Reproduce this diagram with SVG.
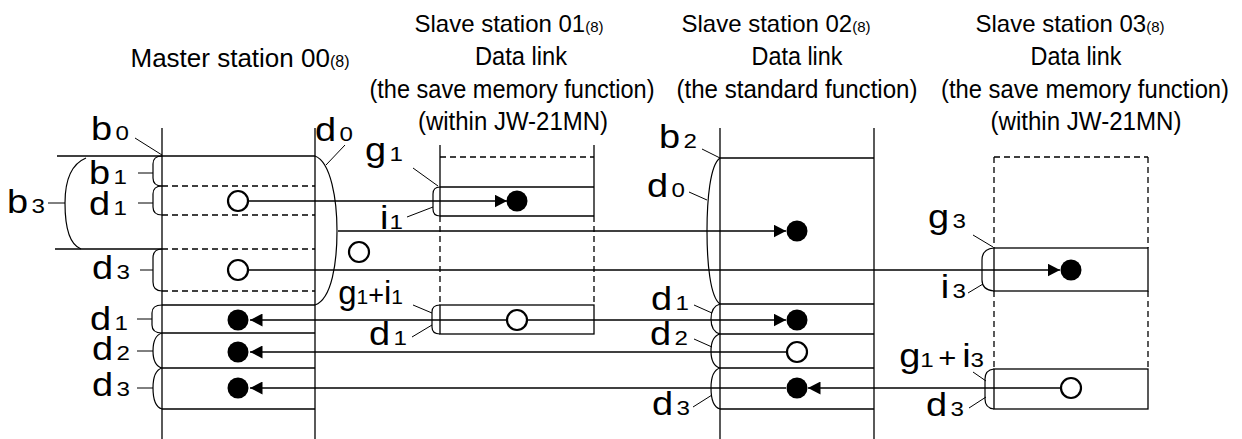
<svg xmlns="http://www.w3.org/2000/svg" width="1242" height="439" viewBox="0 0 1242 439">
<style>
.bg{fill:#fff}
.ln{stroke:#000;stroke-width:1.3;fill:none}
.ds{stroke:#000;stroke-width:1.3;fill:none;stroke-dasharray:6,4}
.br{stroke:#000;stroke-width:1.2;fill:none}
.ld{stroke:#000;stroke-width:1;fill:none}
.ar{stroke:#000;stroke-width:1.5;fill:none}
.oc{fill:#fff;stroke:#000;stroke-width:2.2}
.fc{fill:#000}
.h{font-family:"Liberation Sans",Arial,sans-serif;font-size:25px;fill:#000;text-anchor:middle}
.t{font-family:"Liberation Sans",Arial,sans-serif;font-size:24px;fill:#000;text-anchor:middle}
.m{font-family:"Liberation Sans",Arial,sans-serif;font-size:26px;fill:#000;text-anchor:middle}
.h8{font-size:15px}
.m8{font-size:16px}
.lb{font-family:"Liberation Sans",Arial,sans-serif;font-size:33px;fill:#000;text-anchor:end}
.sb{font-size:21px}
</style>
<defs>
<marker id="ah" markerWidth="13" markerHeight="13" refX="12.5" refY="6.5" orient="auto" markerUnits="userSpaceOnUse"><path d="M0,0 L12.5,6.5 L0,13 z" fill="#000"/></marker>
</defs>
<rect class="bg" x="0" y="0" width="1242" height="439"/>

<g id="headers">
<text class="m" x="240" y="67">Master station 00<tspan class="m8">(8)</tspan></text>
<text class="t" x="509" y="32">Slave station 01<tspan class="h8">(8)</tspan></text>
<text class="h" x="521" y="65" textLength="92" lengthAdjust="spacingAndGlyphs">Data link</text>
<text class="h" x="512" y="98" textLength="285" lengthAdjust="spacingAndGlyphs">(the save memory function)</text>
<text class="h" x="513" y="130" textLength="190" lengthAdjust="spacingAndGlyphs">(within JW-21MN)</text>
<text class="t" x="776" y="32">Slave station 02<tspan class="h8">(8)</tspan></text>
<text class="h" x="797" y="65" textLength="91" lengthAdjust="spacingAndGlyphs">Data link</text>
<text class="h" x="797" y="98" textLength="241" lengthAdjust="spacingAndGlyphs">(the standard function)</text>
<text class="t" x="1070" y="32">Slave station 03<tspan class="h8">(8)</tspan></text>
<text class="h" x="1076" y="65" textLength="91" lengthAdjust="spacingAndGlyphs">Data link</text>
<text class="h" x="1085" y="98" textLength="288" lengthAdjust="spacingAndGlyphs">(the save memory function)</text>
<text class="h" x="1086" y="130" textLength="191" lengthAdjust="spacingAndGlyphs">(within JW-21MN)</text>
</g>

<g id="master">
<line class="ln" x1="162" y1="128" x2="162" y2="439"/>
<line class="ln" x1="315" y1="128" x2="315" y2="439"/>
<line class="ln" x1="57" y1="156" x2="315" y2="156"/>
<line class="ds" x1="162" y1="186" x2="315" y2="186"/>
<line class="ds" x1="162" y1="215" x2="315" y2="215"/>
<line class="ln" x1="55" y1="249" x2="162" y2="249"/>
<line class="ds" x1="162" y1="249" x2="315" y2="249"/>
<line class="ds" x1="162" y1="291" x2="315" y2="291"/>
<line class="ln" x1="162" y1="305" x2="315" y2="305"/>
<line class="ln" x1="162" y1="333" x2="315" y2="333"/>
<line class="ln" x1="162" y1="368" x2="315" y2="368"/>
<line class="ln" x1="162" y1="409" x2="315" y2="409"/>
<path class="br" d="M162,156 Q153,156 153,164 L153,178 Q153,186 162,186"/>
<path class="br" d="M162,186 Q153,186 153,194 L153,207 Q153,215 162,215"/>
<path class="br" d="M162,249 Q153,249 153,258 L153,282 Q153,291 162,291"/>
<path class="br" d="M162,305 Q152,305 152,313 L152,325 Q152,333 162,333"/>
<path class="br" d="M162,333 C155,335 153,342 153,351 C153,360 155,366 162,368"/>
<path class="br" d="M162,368 C155,370 153,378 153,388 C153,398 155,407 162,409"/>
<path class="br" d="M86,158 C69,165 65,185 65,203 C65,222 68,244 81,249"/>
<path class="br" d="M315,156 C331,162 337,200 337,231 C337,262 332,299 315,305"/>
<line class="ld" x1="135" y1="138" x2="162" y2="155"/>
<line class="ld" x1="138" y1="173" x2="153" y2="173"/>
<line class="ld" x1="138" y1="203" x2="153" y2="203"/>
<line class="ld" x1="48" y1="203" x2="65" y2="203"/>
<line class="ld" x1="140" y1="270" x2="153" y2="270"/>
<line class="ld" x1="137" y1="319" x2="152" y2="319"/>
<line class="ld" x1="137" y1="351" x2="153" y2="351"/>
<line class="ld" x1="137" y1="388" x2="153" y2="388"/>
<line class="ld" x1="326" y1="165" x2="345" y2="145"/>
<text class="lb" transform="translate(129,140) scale(1.15,1)">b<tspan class="sb" dx="3">0</tspan></text>
<text class="lb" transform="translate(127,184) scale(1.15,1)">b<tspan class="sb" dx="3">1</tspan></text>
<text class="lb" transform="translate(127,215) scale(1.15,1)">d<tspan class="sb" dx="3">1</tspan></text>
<text class="lb" transform="translate(45,213) scale(1.15,1)">b<tspan class="sb" dx="3">3</tspan></text>
<text class="lb" transform="translate(130,279) scale(1.15,1)">d<tspan class="sb" dx="3">3</tspan></text>
<text class="lb" transform="translate(128,330) scale(1.15,1)">d<tspan class="sb" dx="3">1</tspan></text>
<text class="lb" transform="translate(130,360) scale(1.15,1)">d<tspan class="sb" dx="3">2</tspan></text>
<text class="lb" transform="translate(130,396) scale(1.15,1)">d<tspan class="sb" dx="3">3</tspan></text>
<text class="lb" transform="translate(353,141) scale(1.15,1)">d<tspan class="sb" dx="3">0</tspan></text>
</g>

<g id="slave01">
<line class="ln" x1="440" y1="145" x2="440" y2="216"/>
<line class="ln" x1="594" y1="145" x2="594" y2="216"/>
<line class="ds" x1="440" y1="216" x2="440" y2="305"/>
<line class="ds" x1="594" y1="216" x2="594" y2="305"/>
<line class="ds" x1="440" y1="157" x2="594" y2="157"/>
<line class="ln" x1="440" y1="187" x2="594" y2="187"/>
<line class="ln" x1="440" y1="216" x2="594" y2="216"/>
<rect class="ln" x="440" y="305" width="154" height="29"/>
<path class="br" d="M440,187 Q433,187 433,194 L433,209 Q433,216 440,216"/>
<path class="br" d="M440,305 Q432,305 432,312 L432,327 Q432,334 440,334"/>
<line class="ld" x1="413" y1="168" x2="438" y2="186"/>
<line class="ld" x1="407" y1="217" x2="433" y2="207"/>
<line class="ld" x1="413" y1="305" x2="432" y2="313"/>
<line class="ld" x1="412" y1="337" x2="432" y2="325"/>
<text class="lb" transform="translate(403,161) scale(1.15,1)">g<tspan class="sb" dx="3">1</tspan></text>
<text class="lb" transform="translate(403,229) scale(1.15,1)">i<tspan class="sb" dx="1">1</tspan></text>
<text class="lb" transform="translate(403,304)">g<tspan class="sb">1</tspan><tspan font-size="27">+</tspan>i<tspan class="sb">1</tspan></text>
<text class="lb" transform="translate(407,345) scale(1.15,1)">d<tspan class="sb" dx="3">1</tspan></text>
</g>

<g id="slave02">
<line class="ln" x1="720" y1="128" x2="720" y2="439"/>
<line class="ln" x1="874" y1="128" x2="874" y2="439"/>
<line class="ln" x1="720" y1="158" x2="874" y2="158"/>
<line class="ln" x1="720" y1="304" x2="874" y2="304"/>
<line class="ln" x1="720" y1="334" x2="874" y2="334"/>
<line class="ln" x1="720" y1="368" x2="874" y2="368"/>
<line class="ln" x1="720" y1="409" x2="874" y2="409"/>
<path class="br" d="M720,158 C710,165 707,200 707,231 C707,262 710,297 720,304"/>
<path class="br" d="M720,304 C713,306 711,312 711,319 C711,326 713,332 720,334"/>
<path class="br" d="M720,334 C713,336 711,343 711,351 C711,359 713,366 720,368"/>
<path class="br" d="M720,368 C713,370 711,378 711,388 C711,398 713,407 720,409"/>
<line class="ld" x1="702" y1="149" x2="720" y2="158"/>
<line class="ld" x1="689" y1="192" x2="707" y2="200"/>
<line class="ld" x1="694" y1="305" x2="712" y2="313"/>
<line class="ld" x1="694" y1="339" x2="712" y2="347"/>
<line class="ld" x1="693" y1="407" x2="712" y2="395"/>
<text class="lb" transform="translate(697,148) scale(1.15,1)">b<tspan class="sb" dx="3">2</tspan></text>
<text class="lb" transform="translate(685,197) scale(1.15,1)">d<tspan class="sb" dx="3">0</tspan></text>
<text class="lb" transform="translate(689,310) scale(1.15,1)">d<tspan class="sb" dx="3">1</tspan></text>
<text class="lb" transform="translate(688,345) scale(1.15,1)">d<tspan class="sb" dx="3">2</tspan></text>
<text class="lb" transform="translate(690,415) scale(1.15,1)">d<tspan class="sb" dx="3">3</tspan></text>
</g>

<g id="slave03">
<line class="ds" x1="994" y1="157" x2="1148" y2="157"/>
<line class="ds" x1="994" y1="157" x2="994" y2="248"/>
<line class="ds" x1="1148" y1="157" x2="1148" y2="248"/>
<line class="ds" x1="994" y1="291" x2="994" y2="369"/>
<line class="ds" x1="1148" y1="291" x2="1148" y2="369"/>
<rect class="ln" x="994" y="248" width="154" height="43"/>
<rect class="ln" x="994" y="369" width="154" height="40"/>
<path class="br" d="M994,248 Q982,249 982,260 L982,280 Q982,290 994,291"/>
<path class="br" d="M994,369 Q985,370 985,379 L985,399 Q985,408 994,409"/>
<line class="ld" x1="973" y1="235" x2="993" y2="247"/>
<line class="ld" x1="968" y1="293" x2="983" y2="284"/>
<line class="ld" x1="973" y1="372" x2="986" y2="381"/>
<line class="ld" x1="969" y1="408" x2="986" y2="397"/>
<text class="lb" transform="translate(966,228) scale(1.15,1)">g<tspan class="sb" dx="3">3</tspan></text>
<text class="lb" transform="translate(966,298) scale(1.15,1)">i<tspan class="sb" dx="3">3</tspan></text>
<text class="lb" transform="translate(984,367) scale(1.15,1)">g<tspan class="sb">1</tspan><tspan font-size="27" dx="4">+</tspan><tspan dx="5">i</tspan><tspan class="sb">3</tspan></text>
<text class="lb" transform="translate(964,416) scale(1.15,1)">d<tspan class="sb" dx="3">3</tspan></text>
</g>

<g id="connectors">
<line class="ar" x1="248" y1="201" x2="507" y2="201" marker-end="url(#ah)"/>
<line class="ar" x1="338" y1="231" x2="786" y2="231" marker-end="url(#ah)"/>
<line class="ar" x1="248" y1="270" x2="1060" y2="270" marker-end="url(#ah)"/>
<line class="ar" x1="527" y1="320" x2="786" y2="320" marker-end="url(#ah)"/>
<line class="ar" x1="507" y1="320" x2="250" y2="320" marker-end="url(#ah)"/>
<line class="ar" x1="787" y1="352" x2="250" y2="352" marker-end="url(#ah)"/>
<line class="ar" x1="1060" y1="388" x2="808" y2="388" marker-end="url(#ah)"/>
<line class="ar" x1="786" y1="388" x2="250" y2="388" marker-end="url(#ah)"/>
</g>

<g id="points">
<circle class="oc" cx="238" cy="201" r="10"/>
<circle class="oc" cx="238" cy="270" r="10"/>
<circle class="oc" cx="359" cy="252" r="10"/>
<circle class="oc" cx="517" cy="320" r="10"/>
<circle class="oc" cx="797" cy="352" r="10"/>
<circle class="oc" cx="1071" cy="388" r="10"/>
<circle class="fc" cx="517" cy="201" r="10.5"/>
<circle class="fc" cx="797" cy="231" r="10.5"/>
<circle class="fc" cx="1071" cy="270" r="10.5"/>
<circle class="fc" cx="797" cy="320" r="10.5"/>
<circle class="fc" cx="238" cy="320" r="10.5"/>
<circle class="fc" cx="238" cy="352" r="10.5"/>
<circle class="fc" cx="238" cy="388" r="10.5"/>
<circle class="fc" cx="797" cy="388" r="10.5"/>
</g>
</svg>
